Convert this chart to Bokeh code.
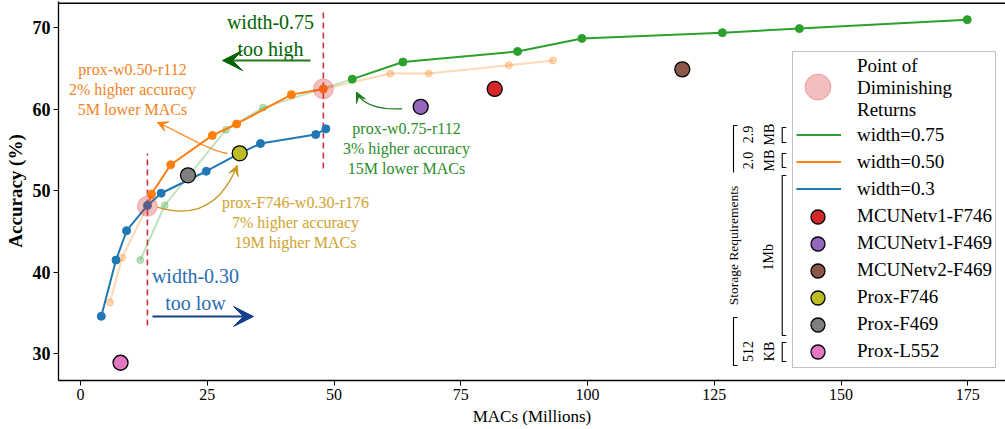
import math
from bokeh.plotting import figure
from bokeh.models import Range1d, FixedTicker, Legend, LegendItem, Arrow, VeeHead, Span
from bokeh.core.properties import value
from bokeh.embed import file_html
from bokeh.resources import INLINE

FONT = "Liberation Serif"

# ---------------- data ----------------
x_ticks = [0, 25, 50, 75, 100, 125, 150, 175]
y_ticks = [30, 40, 50, 60, 70]

# width = 0.75 (first four points drawn faded)
w075_macs = [11.8, 16.6, 28.7, 36.0, 53.6, 63.6, 86.2, 98.9, 126.6, 141.8, 174.9]
w075_acc = [41.5, 48.2, 57.5, 60.2, 63.7, 65.8, 67.1, 68.7, 69.4, 69.9, 71.0]
# width = 0.50 (first two and last four drawn faded)
w050_macs = [5.8, 8.2, 13.2, 14.0, 17.8, 26.0, 30.8, 41.6, 47.9, 61.1, 68.7, 84.5, 93.2]
w050_acc = [36.3, 41.8, 48.1, 49.6, 53.2, 56.8, 58.2, 61.8, 62.5, 64.4, 64.4, 65.4, 66.0]
# width = 0.3
w030_macs = [4.1, 7.0, 9.1, 13.2, 15.9, 24.8, 31.4, 35.5, 46.4, 48.4]
w030_acc = [34.6, 41.5, 45.1, 48.2, 49.7, 52.4, 54.6, 55.8, 56.9, 57.6]

model_names = ["MCUNetv1-F746", "MCUNetv1-F469", "MCUNetv2-F469", "Prox-F746", "Prox-F469", "Prox-L552"]
model_macs = [81.7, 67.1, 118.7, 31.4, 21.2, 7.9]
model_acc = [62.5, 60.3, 64.9, 54.6, 51.9, 28.9]
model_colors = ["#d62728", "#9467bd", "#8c564b", "#bcbd22", "#7f7f7f", "#e377c2"]

pdr_macs = [13.2, 47.9]
pdr_acc = [48.1, 62.5]

GREEN, ORANGE, BLUE = "#2ca02c", "#ff7f0e", "#1f77b4"

# reference pixel -> data helpers (used for annotation placement only)
def X(px):
    return (px - 80) / 5.07

def Y(py):
    return 70 - (py - 27.3) / 8.15

FRAME_L, FRAME_R, FRAME_T, FRAME_B = 58, 1005, 1, 380
W, H = 1005, 429

p = figure(width=W, height=H, output_backend="svg", toolbar_location=None,
           x_range=Range1d(X(FRAME_L), X(FRAME_R)), y_range=Range1d(Y(FRAME_B), Y(FRAME_T)),
           min_border_left=FRAME_L, min_border_right=W - FRAME_R,
           min_border_top=FRAME_T, min_border_bottom=H - FRAME_B)
p.xgrid.visible = False
p.ygrid.visible = False
p.outline_line_color = None
p.background_fill_color = "white"
p.border_fill_color = "white"
p.add_layout(Span(location=Y(2.7), dimension="width", line_color="black", line_width=1.5))

p.xaxis.ticker = FixedTicker(ticks=x_ticks)
p.yaxis.ticker = FixedTicker(ticks=y_ticks)
p.xaxis.axis_label = "MACs (Millions)"
p.yaxis.axis_label = "Accuracy (%)"
for ax in (p.xaxis[0], p.yaxis[0]):
    ax.axis_line_color = "black"
    ax.axis_line_width = 1.3
    ax.major_tick_line_color = "black"
    ax.major_tick_out = 5
    ax.major_tick_in = 0
    ax.minor_tick_line_color = None
    ax.major_label_text_font = FONT
    ax.axis_label_text_font = FONT
    ax.major_label_text_color = "black"
    ax.axis_label_text_color = "black"
    ax.major_label_standoff = 3
    ax.axis_label_standoff = 4
p.xaxis.major_label_text_font_size = "16px"
p.xaxis.axis_label_text_font_size = "17px"
p.xaxis.axis_label_text_font_style = "normal"
p.yaxis.major_label_text_font_size = "18px"
p.yaxis.major_label_text_font_style = "bold"
p.yaxis.axis_label_text_font_size = "19px"
p.yaxis.axis_label_text_font_style = "bold"

# ---------------- dashed vertical lines at diminishing returns ----------------
p.segment(x0=pdr_macs, y0=[Y(325), Y(168)], x1=pdr_macs, y1=[Y(153), Y(12)],
          line_color="#c8323c", line_width=1.6, line_dash="6 4")

# ---------------- faded parts of the curves ----------------
FA = 0.3
p.line(w075_macs[:5], w075_acc[:5], line_color=GREEN, line_width=2, line_alpha=FA)
p.scatter(w075_macs[:4], w075_acc[:4], size=7, color=GREEN, alpha=FA)
p.line(w050_macs[:3], w050_acc[:3], line_color=ORANGE, line_width=2, line_alpha=FA)
p.scatter(w050_macs[:2], w050_acc[:2], size=7, color=ORANGE, alpha=FA)
p.line(w050_macs[8:], w050_acc[8:], line_color=ORANGE, line_width=2, line_alpha=FA)
p.scatter(w050_macs[9:], w050_acc[9:], size=7, color=ORANGE, alpha=FA)

# ---------------- solid curves ----------------
r075 = p.line(w075_macs[4:], w075_acc[4:], line_color=GREEN, line_width=2)
p.scatter(w075_macs[4:], w075_acc[4:], size=8, color=GREEN)
r050 = p.line(w050_macs[2:9], w050_acc[2:9], line_color=ORANGE, line_width=2)
p.scatter(w050_macs[3:9], w050_acc[3:9], size=8, color=ORANGE)
r030 = p.line(w030_macs, w030_acc, line_color=BLUE, line_width=2)
p.scatter(w030_macs, w030_acc, size=8, color=BLUE)

# ---------------- model markers ----------------
model_r = []
for n, mx, my, c in zip(model_names, model_macs, model_acc, model_colors):
    model_r.append(p.scatter([mx], [my], size=15, fill_color=c, line_color="black", line_width=1.3))

# ---------------- points of diminishing returns ----------------
PDR_FILL = "#d62728"
r_pdr = p.scatter(pdr_macs, pdr_acc, size=20, fill_color=PDR_FILL, fill_alpha=0.3,
                  line_color=PDR_FILL, line_alpha=0.3, line_width=1)
# invisible stand-in: the legend's symbols are drawn at their own size by small overlay legends
r_blank = p.scatter(pdr_macs[:1], pdr_acc[:1], size=1, fill_alpha=0, line_alpha=0)

# ---------------- annotations ----------------
def txt(px, py, s, color, size, lh=1.19):
    p.text(x=[X(px)], y=[Y(py)], text=[s], text_font=value(FONT), text_font_size=size,
           text_color=color, text_align="center", text_baseline="middle", text_line_height=lh)

txt(270, 35, "width-0.75\ntoo high", "#006400", "20px", 1.2)
txt(195, 289, "width-0.30\ntoo low", "#2b6cb0", "20px", 1.25)
txt(132, 89, "prox-w0.50-r112\n2% higher accuracy\n5M lower MACs", "#f28322", "16px")
txt(406, 148, "prox-w0.75-r112\n3% higher accuracy\n15M lower MACs", "#2a8c2a", "16px")
txt(295, 222, "prox-F746-w0.30-r176\n7% higher accuracy\n19M higher MACs", "#d0a22e", "16px")

p.add_layout(Arrow(end=VeeHead(size=20, fill_color="#006400", line_color="#006400"),
                   x_start=X(310), y_start=Y(60), x_end=X(222), y_end=Y(60),
                   line_color="#1f7a1f", line_width=2))
p.add_layout(Arrow(end=VeeHead(size=20, fill_color="#123f8c", line_color="#123f8c"),
                   x_start=X(152), y_start=Y(316), x_end=X(253), y_end=Y(316),
                   line_color="#123f8c", line_width=2))

def head(c, e, color):
    dx, dy = e[0] - c[0], e[1] - c[1]
    L = math.hypot(dx, dy)
    bx, by = e[0] - 4 * dx / L, e[1] - 4 * dy / L
    p.add_layout(Arrow(end=VeeHead(size=10, fill_color=color, line_color=color),
                       x_start=X(bx), y_start=Y(by), x_end=X(e[0]), y_end=Y(e[1]),
                       line_color=color, line_width=1.3))

def curved(s, c, e, color):
    p.quadratic(x0=[X(s[0])], y0=[Y(s[1])], x1=[X(e[0])], y1=[Y(e[1])],
                cx=[X(c[0])], cy=[Y(c[1])], line_color=color, line_width=1.3)
    head(c, e, color)

def curved3(s, c0, c1, e, color):
    p.bezier(x0=[X(s[0])], y0=[Y(s[1])], x1=[X(e[0])], y1=[Y(e[1])],
             cx0=[X(c0[0])], cy0=[Y(c0[1])], cx1=[X(c1[0])], cy1=[Y(c1[1])],
             line_color=color, line_width=1.3)
    head(c1, e, color)

curved3((227, 153), (208, 150), (180, 132), (157, 122), ORANGE)
curved((401.7, 108.3), (365, 110), (356, 91.7), "#1a7a1a")
curved((156.7, 206.7), (213.3, 224.1), (236.7, 165), "#c8961e")

# ---------------- storage requirement brackets ----------------
bx_out, bx_in, tk = 733, 781.7, 4
br_xs = [
    [bx_out + tk, bx_out, bx_out],
    [bx_out + tk, bx_out, bx_out, bx_out + tk],
]
br_ys = [
    [125, 125, 172],
    [317, 317, 365, 365],
]
for top, bot in [(127, 142), (153, 167), (175, 335), (342, 361)]:
    br_xs.append([bx_in + tk, bx_in, bx_in, bx_in + tk])
    br_ys.append([top, top, bot, bot])
p.multi_line(xs=[[X(v) for v in xs] for xs in br_xs], ys=[[Y(v) for v in ys] for ys in br_ys],
             line_color="black", line_width=1.1)

def vtxt(px, py, s, size="14px", lh=1.35):
    p.text(x=[X(px)], y=[Y(py)], text=[s], angle=math.pi / 2, text_font=value(FONT),
           text_font_size=size, text_color="black", text_align="center",
           text_baseline="middle", text_line_height=lh)

vtxt(733, 245, "Storage Requirements", "13.5px")
vtxt(758.5, 134, "2.9\nMB")
vtxt(758.5, 160, "2.0\nMB")
vtxt(768, 256.7, "1Mb")
vtxt(758.5, 351, "512\nKB")

# ---------------- legend ----------------
LEG_L, LEG_B, PAD, PITCH = 792, 368, 3, 27
items = [LegendItem(label="Point of\nDiminishing\nReturns", renderers=[r_blank]),
         LegendItem(label="width=0.75", renderers=[r075]),
         LegendItem(label="width=0.50", renderers=[r050]),
         LegendItem(label="width=0.3", renderers=[r030])]
for n in model_names:
    items.append(LegendItem(label=n, renderers=[r_blank]))
legend = Legend(items=items, location=(LEG_L - FRAME_L, FRAME_B - LEG_B))
legend.label_text_font = FONT
legend.label_text_font_size = "19px"
legend.label_text_color = "black"
legend.label_text_line_height = 1.24
legend.glyph_width = 45
legend.glyph_height = PITCH
legend.label_height = PITCH
legend.label_standoff = 16
legend.spacing = 0
legend.padding = PAD
legend.margin = 0
legend.border_line_color = "#888888"
legend.border_line_width = 1.2
legend.background_fill_alpha = 1.0
p.add_layout(legend)

# symbol overlays drawn by single-item legends so that their size can be set
def symbol_legend(renderer, cx, cy, box):
    lg = Legend(items=[LegendItem(label=" ", renderers=[renderer])],
                location=(cx - box / 2 - FRAME_L, FRAME_B - (cy + box / 2)))
    lg.glyph_width = box
    lg.glyph_height = box
    lg.label_height = box
    lg.label_standoff = 0
    lg.label_text_font_size = "2px"
    lg.padding = 0
    lg.margin = 0
    lg.spacing = 0
    lg.border_line_color = None
    lg.background_fill_alpha = 0
    p.add_layout(lg)

sym_x = LEG_L + PAD + 45 / 2
n_models = len(model_r)
for k, r in enumerate(model_r):
    cy = LEG_B - PAD - PITCH / 2 - PITCH * (n_models - 1 - k)
    symbol_legend(r, sym_x, cy, 35)
first_line_cy = LEG_B - PAD - PITCH / 2 - PITCH * (n_models - 1 + 3)
symbol_legend(r_pdr, sym_x, first_line_cy - PITCH / 2 - 36, 65)

open("out.html", "w").write(file_html(p, INLINE))
